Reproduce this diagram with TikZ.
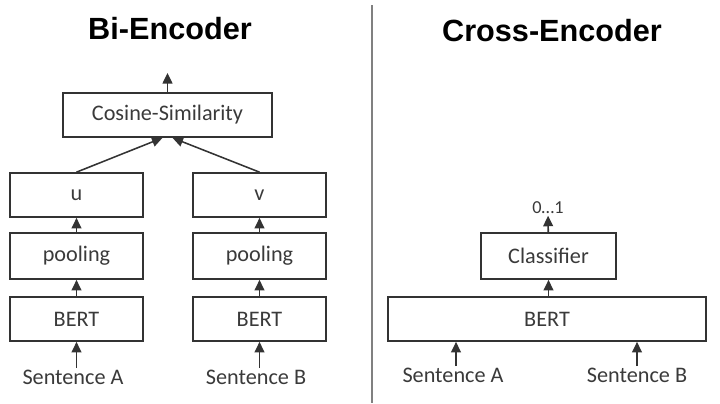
\documentclass[tikz,border=0pt]{standalone}
\usepackage{xcolor}
\usepackage{fontspec}
\setmainfont{Carlito}
\newfontfamily\titlefont{Liberation Sans}
\usepackage{tikz}
\usetikzlibrary{arrows.meta}

\definecolor{linegray}{HTML}{333333}
\definecolor{textgray}{HTML}{3A3A3A}

\begin{document}
\begin{tikzpicture}[x=0.025cm,y=-0.025cm,
    box/.style={draw=linegray,line width=1.2pt,minimum height=1.1cm,
        text=textgray,font=\fontsize{15.8}{18}\selectfont,inner sep=2pt},
    sent/.style={text=textgray,font=\fontsize{15.8}{18}\selectfont,inner sep=1pt},
    arr/.style={-{Triangle[length=7.5pt,width=7pt]},line width=1.1pt,draw=linegray},
    title/.style={font=\titlefont\bfseries\fontsize{21.8}{24}\selectfont}]
    \useasboundingbox (0,0) rectangle (720,403);
    % Bi-Encoder
    \node[title] (bi) at (170,29) {Bi-Encoder};
    \node[box,minimum width=5.225cm] (cos) at (167.5,115) {Cosine-Similarity};
    \coordinate (out) at (167.5,73);
    \node[box,minimum width=3.325cm] (u) at (76.5,195) {u};
    \node[box,minimum width=3.325cm] (v) at (259.5,195) {v};
    \node[box,minimum width=3.325cm,minimum height=1.15cm] (poolA) at (76.5,256) {pooling};
    \node[box,minimum width=3.325cm,minimum height=1.15cm] (poolB) at (259.5,256) {pooling};
    \node[box,minimum width=3.325cm] (bertA) at (76.5,319) {BERT};
    \node[box,minimum width=3.325cm] (bertB) at (259.5,319) {BERT};
    \node[sent] (sentA) at (73,377) {Sentence A};
    \node[sent] (sentB) at (256,377) {Sentence B};
    \draw[arr] (cos.north) -- (out);
    \draw[arr] (u.north) -- ([xshift=-5*0.025cm]cos.south);
    \draw[arr] (v.north) -- ([xshift=5*0.025cm]cos.south);
    \draw[arr] (poolA) -- (u);
    \draw[arr] (poolB) -- (v);
    \draw[arr] (bertA) -- (poolA);
    \draw[arr] (bertB) -- (poolB);
    \draw[arr] (bertA.south |- sentA.north) -- (bertA.south);
    \draw[arr] (bertB.south |- sentB.north) -- (bertB.south);
    % divider
    \draw[gray,line width=1pt] (372,5) -- (372,403);
    % Cross-Encoder
    \node[title] (cross) at (552,31) {Cross-Encoder};
    \node[box,minimum width=7.95cm] (bertC) at (547,319) {BERT};
    \node[box,minimum width=3.375cm,minimum height=1.15cm] (clf) at (548.5,256) {Classifier};
    \node[sent,font=\fontsize{13}{15}\selectfont] (score) at (548,208) {0…1};
    \node[sent] (sentC) at (453,375) {Sentence A};
    \node[sent] (sentD) at (637,375) {Sentence B};
    \draw[arr] (bertC.north -| clf) -- (clf);
    \draw[arr] (clf) -- (score);
    \draw[arr] (456,0 |- sentC.north) -- (456,0 |- bertC.south);
    \draw[arr] (sentD.north) -- (sentD.north |- bertC.south);
\end{tikzpicture}
\end{document}
